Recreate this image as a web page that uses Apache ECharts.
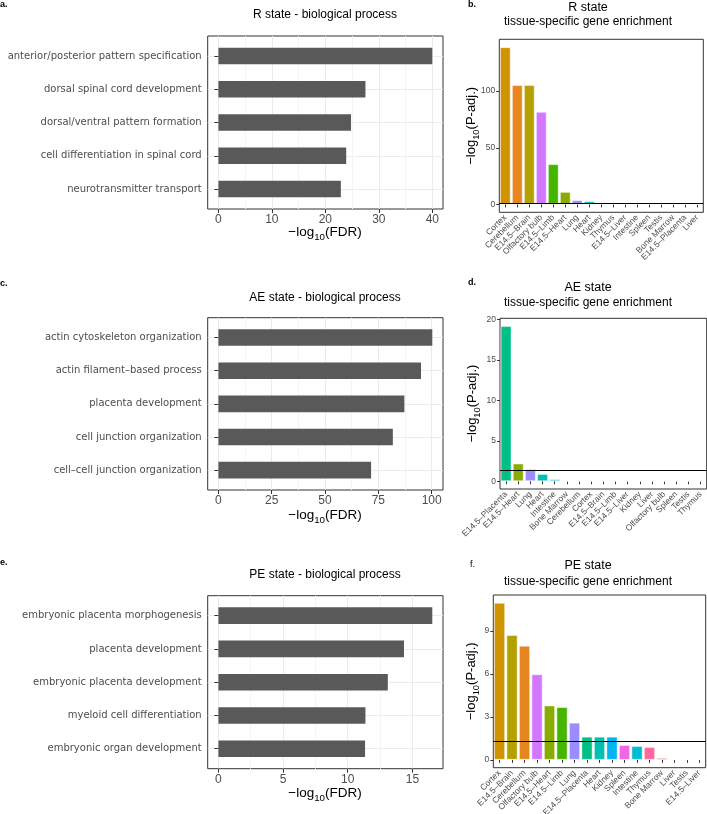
<!DOCTYPE html>
<html><head><meta charset="utf-8">
<script src="https://cdn.jsdelivr.net/npm/echarts@6/dist/echarts.min.js"></script>
<style>html,body{margin:0;padding:0;background:#fff}#c{width:707px;height:814px}</style>
</head><body><div id="c"></div>
<script>
// ---------------- data ----------------
const rTerms = ['anterior/posterior pattern specification','dorsal spinal cord development','dorsal/ventral pattern formation','cell differentiation in spinal cord','neurotransmitter transport'];
const rFDR = [40.0, 27.5, 24.8, 23.9, 22.9];
const rFdrTicks = [0, 10, 20, 30, 40];
const rFdrMinor = [5, 15, 25, 35];

const aeTerms = ['actin cytoskeleton organization','actin filament–based process','placenta development','cell junction organization','cell–cell junction organization'];
const aeFDR = [100.3, 95.0, 87.2, 81.8, 71.6];
const aeFdrTicks = [0, 25, 50, 75, 100];
const aeFdrMinor = [12.5, 37.5, 62.5, 87.5];

const peTerms = ['embryonic placenta morphogenesis','placenta development','embryonic placenta development','myeloid cell differentiation','embryonic organ development'];
const peFDR = [16.54, 14.35, 13.1, 11.37, 11.34];
const peFdrTicks = [0, 5, 10, 15];
const peFdrMinor = [2.5, 7.5, 12.5];

const rTissues = ['Cortex','Cerebellum','E14.5–Brain','Olfactory bulb','E14.5–Limb','E14.5–Heart','Lung','Heart','Kidney','Thymus','E14.5–Liver','Intestine','Spleen','Testis','Bone Marrow','E14.5–Placenta','Liver'];
const rPadj = [138.8, 105.3, 105.3, 81.7, 35.6, 11.1, 3.8, 2.9, 1.6, 0.9, 0.7, 0.5, 0.5, 0.2, 0.1, 0.05, 0.02];
const rPadjTicks = [0, 50, 100];

const aeTissues = ['E14.5–Placenta','E14.5–Heart','Lung','Heart','Intestine','Bone Marrow','Cerebellum','Cortex','E14.5–Brain','E14.5–Limb','E14.5–Liver','Kidney','Liver','Olfactory bulb','Spleen','Testis','Thymus'];
const aePadj = [19.2, 2.2, 1.5, 0.9, 0.25, 0, 0, 0, 0, 0, 0, 0, 0, 0, 0, 0, 0];
const aePadjTicks = [0, 5, 10, 15, 20];

const peTissues = ['Cortex','E14.5–Brain','Cerebellum','Olfactory bulb','E14.5–Heart','E14.5–Limb','Lung','E14.5–Placenta','Heart','Kidney','Spleen','Intestine','Thymus','Bone Marrow','Liver','Testis','E14.5–Liver'];
const pePadj = [10.97, 8.72, 7.98, 5.98, 3.80, 3.69, 2.60, 1.62, 1.62, 1.62, 1.04, 0.97, 0.90, 0.14, 0.03, 0.03, 0.03];
const pePadjTicks = [0, 3, 6, 9];

const padjThreshold = 1.3;
const allTissues = ['Bone Marrow','Cerebellum','Cortex','E14.5–Brain','E14.5–Heart','E14.5–Limb','E14.5–Liver','E14.5–Placenta','Heart','Intestine','Kidney','Liver','Lung','Olfactory bulb','Spleen','Testis','Thymus'];

// ---------------- colours (ggplot hue palette) ----------------
function hcl(h, c, l) {
  const hr = h * Math.PI / 180, U = c * Math.cos(hr), V = c * Math.sin(hr);
  const Xn = 95.047, Yn = 100, Zn = 108.883;
  const un = 4 * Xn / (Xn + 15 * Yn + 3 * Zn), vn = 9 * Yn / (Xn + 15 * Yn + 3 * Zn);
  const Y = l > 8 ? Yn * Math.pow((l + 16) / 116, 3) : Yn * l / 903.3;
  const u = U / (13 * l) + un, v = V / (13 * l) + vn;
  const X = 9 * Y * u / (4 * v), Z = (9 * Y - 15 * v * Y - v * X) / (3 * v);
  const x = X / 100, y = Y / 100, z = Z / 100;
  const lin = [3.240479*x - 1.537150*y - 0.498535*z, -0.969256*x + 1.875992*y + 0.041556*z, 0.055648*x - 0.204043*y + 1.057311*z];
  return '#' + lin.map(t => {
    let g = t <= 0.0031308 ? 12.92 * t : 1.055 * Math.pow(t, 1 / 2.4) - 0.055;
    g = Math.max(0, Math.min(1, g));
    return Math.round(g * 255).toString(16).padStart(2, '0');
  }).join('');
}
const colorMap = {};
allTissues.forEach((t, i) => { colorMap[t] = hcl(15 + i * 360 / allTissues.length, 100, 65); });

// ---------------- builders ----------------
const grids = [], xAxes = [], yAxes = [], series = [], graphics = [];
const SANS = 'Liberation Sans, Arial, sans-serif';
const axisTextColor = '#4d4d4d';
const borderCol = '#333333';

function gridOf(box, show) {
  return {left: box.left, top: box.top, width: box.width, height: box.height, show: show,
    borderColor: borderCol, borderWidth: 1, backgroundColor: 'transparent',
    containLabel: false, outerBoundsMode: 'none'};
}

function addLeft(terms, vals, ticks, minors, box) {
  const n = terms.length;
  const max = Math.max(...vals);
  const lo = -0.05 * max, hi = 1.05 * max;
  const gBox = grids.length;
  grids.push(gridOf(box, true));
  const s = box.height / (n - 1 + 1.2);
  const gBar = grids.length;
  grids.push(gridOf({left: box.left, top: box.top + 0.1 * s, width: box.width, height: n * s}, false));
  xAxes.push({gridIndex: gBox, type: 'value', position: 'top', min: lo, max: hi,
    axisLine: {show: false}, axisTick: {show: false, customValues: minors}, axisLabel: {show: false},
    splitLine: {show: true, lineStyle: {color: '#f4f4f4', width: 1}}});
  xAxes.push({gridIndex: gBox, type: 'value', position: 'bottom', min: lo, max: hi,
    axisLine: {show: false},
    axisTick: {show: true, length: 4, customValues: ticks, lineStyle: {color: borderCol, width: 1}},
    axisLabel: {customValues: ticks, fontFamily: SANS, fontSize: 12, color: axisTextColor, margin: 5},
    splitLine: {show: true, lineStyle: {color: '#ebebeb', width: 1}}});
  const idx = terms.map((t, i) => i + 1);
  yAxes.push({gridIndex: gBox, type: 'value', inverse: true, min: 0.4, max: n + 0.6,
    axisLine: {show: false},
    axisTick: {show: true, length: 4, customValues: idx, lineStyle: {color: borderCol, width: 1}},
    axisLabel: {customValues: idx, formatter: v => terms[Math.round(v) - 1], fontFamily: 'DejaVu Sans', fontSize: 10, color: axisTextColor, margin: 6},
    splitLine: {show: true, lineStyle: {color: '#ebebeb', width: 1}}});
  const xi = xAxes.length;
  xAxes.push({gridIndex: gBar, type: 'value', min: lo, max: hi, show: false});
  const yi = yAxes.length;
  yAxes.push({gridIndex: gBar, type: 'category', data: terms, inverse: true, show: false});
  series.push({type: 'bar', xAxisIndex: xi, yAxisIndex: yi, data: vals, barWidth: '50%', silent: true,
    itemStyle: {color: '#595959'}});
}

function addRight(tissues, vals, ticks, box) {
  const max = Math.max(...vals);
  const g = grids.length;
  grids.push(gridOf(box, true));
  const xi = xAxes.length;
  xAxes.push({gridIndex: g, type: 'category', data: tissues, position: 'bottom',
    axisLine: {show: false},
    axisTick: {show: true, alignWithLabel: true, length: 3, lineStyle: {color: borderCol, width: 1}},
    axisLabel: {interval: 0, rotate: 45, fontFamily: SANS, fontSize: 8.5, color: axisTextColor, margin: 4},
    splitLine: {show: false}});
  const yi = yAxes.length;
  yAxes.push({gridIndex: g, type: 'value', min: -0.05 * max, max: 1.05 * max,
    axisLine: {show: false},
    axisTick: {show: true, length: 3, customValues: ticks, lineStyle: {color: borderCol, width: 1}},
    axisLabel: {customValues: ticks, fontFamily: SANS, fontSize: 8.5, color: axisTextColor, margin: 4},
    splitLine: {show: false}});
  series.push({type: 'bar', xAxisIndex: xi, yAxisIndex: yi, barWidth: '90%', silent: true,
    data: vals.map((v, i) => ({value: v, itemStyle: {color: colorMap[tissues[i]], borderColor: 'rgba(255,255,255,0.45)', borderWidth: 1}})),
    markLine: {silent: true, symbol: 'none', animation: false, label: {show: false},
      lineStyle: {color: '#000', width: 1, type: 'solid'}, data: [{yAxis: padjThreshold}]}});
}

function text(x, y, str, opts) {
  graphics.push(Object.assign({type: 'text', x: x, y: y, silent: true,
    style: Object.assign({text: str, fontFamily: SANS, fontSize: 12, fill: '#000', align: 'center', verticalAlign: 'middle'}, opts || {})}));
}
function axisTitle(x, y, main, paren, size, rot) {
  graphics.push({type: 'text', x: x, y: y, rotation: rot || 0, silent: true,
    style: {text: '{m|' + main + '}{s|10}{m|' + paren + '}', align: 'center', verticalAlign: 'middle', fill: '#000',
      rich: {m: {fontFamily: SANS, fontSize: size, lineHeight: 16, verticalAlign: 'top', fill: '#000'},
             s: {fontFamily: SANS, fontSize: size * 0.72, lineHeight: 10, padding: [7, 0, 0, 0], verticalAlign: 'top', fill: '#000'}}}});
}

// ---------------- panels ----------------
addLeft(rTerms, rFDR, rFdrTicks, rFdrMinor, {left: 207.7, top: 36, width: 235.3, height: 173});
addLeft(aeTerms, aeFDR, aeFdrTicks, aeFdrMinor, {left: 207.7, top: 317.7, width: 235.3, height: 172.3});
addLeft(peTerms, peFDR, peFdrTicks, peFdrMinor, {left: 207.7, top: 595.7, width: 235.3, height: 173});
addRight(rTissues, rPadj, rPadjTicks, {left: 499.3, top: 39.3, width: 204, height: 173});
addRight(aeTissues, aePadj, aePadjTicks, {left: 500, top: 318.3, width: 206.7, height: 170.7});
addRight(peTissues, pePadj, pePadjTicks, {left: 493.3, top: 595, width: 212.4, height: 172.7});

// titles
text(325, 15, 'R state - biological process', {fontSize: 12});
text(325, 297.7, 'AE state - biological process', {fontSize: 12});
text(325, 575, 'PE state - biological process', {fontSize: 12});
text(588, 8, 'R state', {fontSize: 12.5});
text(588, 22, 'tissue-specific gene enrichment', {fontSize: 12});
text(588, 288, 'AE state', {fontSize: 12.5});
text(588, 303, 'tissue-specific gene enrichment', {fontSize: 12});
text(588, 566, 'PE state', {fontSize: 12.5});
text(588, 582, 'tissue-specific gene enrichment', {fontSize: 12});
// panel letters
text(0, 5, 'a.', {fontSize: 9, fontWeight: 'bold', align: 'left'});
text(468, 5, 'b.', {fontSize: 9, fontWeight: 'bold', align: 'left'});
text(0, 284, 'c.', {fontSize: 9, fontWeight: 'bold', align: 'left'});
text(468, 283, 'd.', {fontSize: 9, fontWeight: 'bold', align: 'left'});
text(0, 563, 'e.', {fontSize: 9, fontWeight: 'bold', align: 'left'});
text(470, 565, 'f.', {fontSize: 9, align: 'left'});
// axis titles
axisTitle(325, 233, '−log', '(FDR)', 13.5, 0);
axisTitle(325, 516.7, '−log', '(FDR)', 13.5, 0);
axisTitle(325, 794, '−log', '(FDR)', 13.5, 0);
axisTitle(473, 125.8, '−log', '(P-adj.)', 13, Math.PI / 2);
axisTitle(474, 403.6, '−log', '(P-adj.)', 13, Math.PI / 2);
axisTitle(473, 681.3, '−log', '(P-adj.)', 13, Math.PI / 2);

const chart = echarts.init(document.getElementById('c'), null, {renderer: 'canvas'});
chart.setOption({
  animation: false,
  backgroundColor: '#ffffff',
  grid: grids, xAxis: xAxes, yAxis: yAxes, series: series, graphic: graphics
});
</script>
</body></html>
